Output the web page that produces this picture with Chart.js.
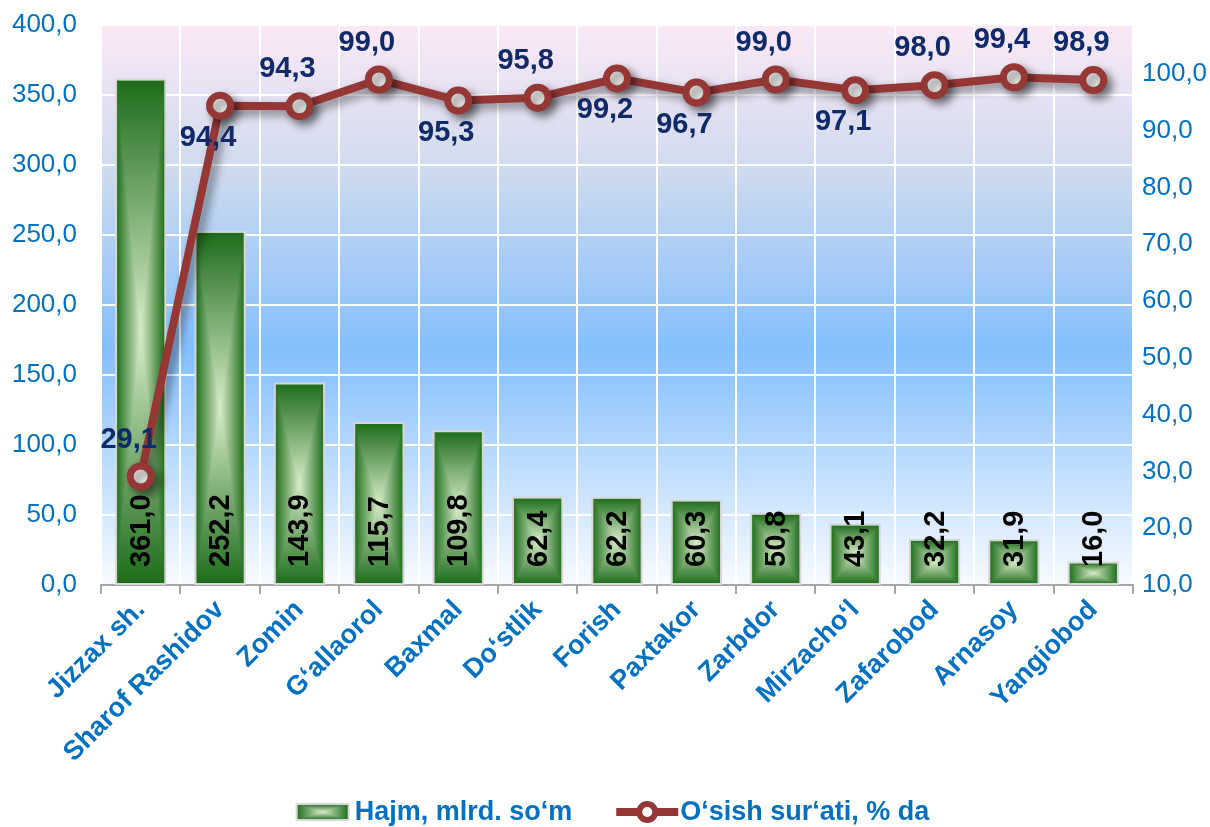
<!DOCTYPE html>
<html>
<head>
<meta charset="utf-8">
<script src="https://cdn.jsdelivr.net/npm/chart.js@4.4.1/dist/chart.umd.min.js"></script>
<style>
	html, body { margin: 0; padding: 0; background: #ffffff; }
	#wrap { width: 1210px; height: 827px; }
</style>
</head>
<body>
<div id="wrap"><canvas id="grHajm" width="1210" height="827"></canvas></div>
<script>
var districts = ["Jizzax sh.", "Sharof Rashidov", "Zomin", "G‘allaorol", "Baxmal", "Do‘stlik", "Forish", "Paxtakor", "Zarbdor", "Mirzacho‘l", "Zafarobod", "Arnasoy", "Yangiobod"];
var hajm = [361.0, 252.2, 143.9, 115.7, 109.8, 62.4, 62.2, 60.3, 50.8, 43.1, 32.2, 31.9, 16.0];
var osish = [29.1, 94.4, 94.3, 99.0, 95.3, 95.8, 99.2, 96.7, 99.0, 97.1, 98.0, 99.4, 98.9];
var leftTicks = [0, 50, 100, 150, 200, 250, 300, 350, 400];
var rightTicks = [10, 20, 30, 40, 50, 60, 70, 80, 90, 100];
// where the label of each growth point sits
var osishLabelSide = ["up", "down", "up", "up", "down", "up", "down", "down", "up", "down", "up", "up", "up"];

var hajmLabel = "Hajm, mlrd. so‘m";
var osishLabel = "O‘sish sur‘ati, % da";

var FONT = "'Liberation Sans', Arial, sans-serif";
var BLUE = "#0070c0";
var LINE_RED = "#953735";
var NAVY = "#0f2a68";
var DARK_GREEN = "#1d6c1a";
var LIGHT_GREEN = "#d8ecc9";

Chart.defaults.font.family = FONT;

function fmt(v) {
	return Number(v).toFixed(1).replace(".", ",");
}

// plot area gradient
var plotBg = {
	id: "plotBg",
	beforeDraw: function(chart) {
		var a = chart.chartArea, ctx = chart.ctx;
		var g = ctx.createLinearGradient(0, a.top, 0, a.bottom);
		g.addColorStop(0, "#fbe8f6");
		g.addColorStop(0.25, "#d0dbee");
		g.addColorStop(0.58, "#84bffd");
		g.addColorStop(1, "#f8fbff");
		ctx.save();
		ctx.fillStyle = g;
		ctx.fillRect(a.left, a.top, a.right - a.left, a.bottom - a.top);
		ctx.restore();
	}
};

// green bars with a rectangle "path" gradient, and shadow under the line
var barPaint = {
	id: "barPaint",
	afterDatasetDraw: function(chart, args) {
		if (args.index !== 0) return;
		var ctx = chart.ctx;
		args.meta.data.forEach(function(bar) {
			var p = bar.getProps(["x", "y", "base", "width"], true);
			var left = p.x - p.width / 2;
			var top = p.y;
			var h = p.base - p.y;
			ctx.save();
			var gh = ctx.createLinearGradient(left, 0, left + p.width, 0);
			gh.addColorStop(0, DARK_GREEN);
			gh.addColorStop(0.5, LIGHT_GREEN);
			gh.addColorStop(1, DARK_GREEN);
			ctx.fillStyle = gh;
			ctx.fillRect(left, top, p.width, h);
			var gv = ctx.createLinearGradient(0, top, 0, top + h);
			gv.addColorStop(0, DARK_GREEN);
			gv.addColorStop(0.5, LIGHT_GREEN);
			gv.addColorStop(1, DARK_GREEN);
			ctx.globalCompositeOperation = "darken";
			ctx.fillStyle = gv;
			ctx.fillRect(left, top, p.width, h);
			ctx.globalCompositeOperation = "source-over";
			ctx.strokeStyle = "#d6d6d6";
			ctx.lineWidth = 2;
			ctx.strokeRect(left, top, p.width, h);
			ctx.restore();
		});
	},
	beforeDatasetDraw: function(chart, args) {
		if (args.index !== 1) return;
		var ctx = chart.ctx;
		ctx.save();
		ctx.shadowColor = "rgba(0,0,0,0.45)";
		ctx.shadowBlur = 10;
		ctx.shadowOffsetX = 5;
		ctx.shadowOffsetY = 5;
	}
};

var shadowOff = {
	id: "shadowOff",
	afterDatasetDraw: function(chart, args) {
		if (args.index === 1) chart.ctx.restore();
	}
};

// value labels
var valueLabels = {
	id: "valueLabels",
	afterDatasetsDraw: function(chart) {
		var ctx = chart.ctx;
		ctx.save();
		ctx.font = "bold 29px " + FONT;

		// bar values, rotated, starting near the base
		ctx.fillStyle = "#000000";
		ctx.textAlign = "left";
		ctx.textBaseline = "middle";
		chart.getDatasetMeta(0).data.forEach(function(bar, i) {
			var p = bar.getProps(["x", "base"], true);
			ctx.save();
			ctx.translate(p.x, p.base - 17);
			ctx.rotate(-Math.PI / 2);
			ctx.fillText(fmt(hajm[i]), 0, 1);
			ctx.restore();
		});

		// growth values
		ctx.fillStyle = NAVY;
		ctx.textAlign = "center";
		chart.getDatasetMeta(1).data.forEach(function(pt, i) {
			var dy = osishLabelSide[i] === "up" ? -37 : 32;
			ctx.fillText(fmt(osish[i]), pt.x - 12, pt.y + dy);
		});
		ctx.restore();
	}
};

// legend at the bottom
var bottomLegend = {
	id: "bottomLegend",
	afterDraw: function(chart) {
		var ctx = chart.ctx;
		var cy = 812;
		ctx.save();
		ctx.font = "bold 27px " + FONT;
		ctx.textBaseline = "middle";
		ctx.textAlign = "left";
		var w1 = ctx.measureText(hajmLabel).width;
		var w2 = ctx.measureText(osishLabel).width;
		var total = 52 + 6 + w1 + 44 + 62 + 2 + w2;
		var x = chart.width / 2 + 8 - total / 2;

		// bar swatch
		var sw = 52, sh = 16, sy = cy - sh / 2;
		var g = ctx.createLinearGradient(x, 0, x + sw, 0);
		g.addColorStop(0, DARK_GREEN);
		g.addColorStop(0.5, LIGHT_GREEN);
		g.addColorStop(1, DARK_GREEN);
		ctx.fillStyle = g;
		ctx.fillRect(x, sy, sw, sh);
		var gv = ctx.createLinearGradient(0, sy, 0, sy + sh);
		gv.addColorStop(0, DARK_GREEN);
		gv.addColorStop(0.5, LIGHT_GREEN);
		gv.addColorStop(1, DARK_GREEN);
		ctx.globalCompositeOperation = "darken";
		ctx.fillStyle = gv;
		ctx.fillRect(x, sy, sw, sh);
		ctx.globalCompositeOperation = "source-over";
		ctx.strokeStyle = "#d6d6d6";
		ctx.lineWidth = 2;
		ctx.strokeRect(x, sy, sw, sh);
		x += sw + 6;
		ctx.fillStyle = BLUE;
		ctx.fillText(hajmLabel, x, cy + 1);
		x += w1 + 44;

		// line swatch
		ctx.strokeStyle = LINE_RED;
		ctx.lineWidth = 8;
		ctx.beginPath();
		ctx.moveTo(x, cy);
		ctx.lineTo(x + 62, cy);
		ctx.stroke();
		ctx.fillStyle = "#ffffff";
		ctx.lineWidth = 6;
		ctx.beginPath();
		ctx.arc(x + 31, cy, 8, 0, Math.PI * 2);
		ctx.fill();
		ctx.stroke();
		x += 62 + 2;
		ctx.fillStyle = BLUE;
		ctx.fillText(osishLabel, x, cy + 1);
		ctx.restore();
	}
};

var config = {
	type: "bar",
	data: {
		labels: districts,
		datasets: [{
			type: "bar",
			label: hajmLabel,
			data: hajm,
			yAxisID: "y",
			backgroundColor: "rgba(0,0,0,0)",
			borderWidth: 0,
			barPercentage: 0.62,
			categoryPercentage: 1,
			order: 1
		}, {
			type: "line",
			label: osishLabel,
			data: osish,
			yAxisID: "y1",
			borderColor: LINE_RED,
			borderWidth: 8,
			pointRadius: 10.5,
			pointBorderWidth: 7,
			pointBackgroundColor: "#ffffff",
			pointBorderColor: LINE_RED,
			tension: 0,
			order: 0
		}]
	},
	options: {
		responsive: false,
		animation: false,
		layout: { padding: { top: 25, bottom: 50, left: 0, right: 0 } },
		plugins: {
			legend: { display: false },
			tooltip: { enabled: false }
		},
		scales: {
			x: {
				offset: true,
				grid: { color: "#ffffff", lineWidth: 2, tickColor: "#a6a6a6", tickLength: 9, offset: true },
				border: { color: "#a6a6a6", width: 2 },
				ticks: {
					color: BLUE,
					font: { size: 27, weight: "bold" },
					minRotation: 45,
					maxRotation: 45,
					autoSkip: false,
					padding: 0
				},
				afterFit: function(s) { s.height = 192; }
			},
			y: {
				position: "left",
				min: 0,
				max: 400,
				grid: { color: "#ffffff", lineWidth: 2, drawTicks: false },
				border: { display: false },
				ticks: { color: BLUE, font: { size: 26 }, padding: 24, callback: fmt },
				afterBuildTicks: function(s) { s.ticks = leftTicks.map(function(v) { return { value: v }; }); },
				afterFit: function(s) { s.width = 101; s.paddingTop = 0; s.paddingBottom = 0; }
			},
			y1: {
				position: "right",
				min: 10,
				max: 108.6,
				grid: { drawOnChartArea: false, drawTicks: false },
				border: { display: false },
				ticks: { color: BLUE, font: { size: 26 }, padding: 9, callback: fmt },
				afterBuildTicks: function(s) { s.ticks = rightTicks.map(function(v) { return { value: v }; }); },
				afterFit: function(s) { s.width = 77; s.paddingTop = 0; s.paddingBottom = 0; }
			}
		}
	},
	plugins: [plotBg, barPaint, shadowOff, valueLabels, bottomLegend]
};

var ctxH = document.getElementById("grHajm").getContext("2d");
window.myChart = new Chart(ctxH, config);
</script>
</body>
</html>
